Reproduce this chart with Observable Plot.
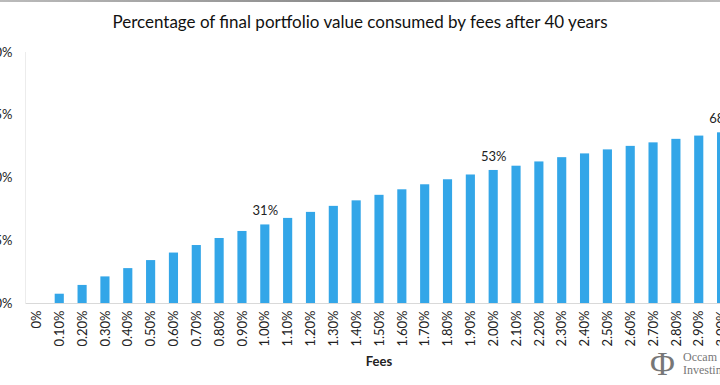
<!DOCTYPE html>
<html>
<head>
<meta charset="utf-8">
<script src="https://cdn.jsdelivr.net/npm/d3@7"></script>
<script src="https://cdn.jsdelivr.net/npm/@observablehq/plot@0.6"></script>
<style>
  html, body { margin: 0; padding: 0; background: #fff; }
  #wrap { position: relative; width: 720px; height: 385px; overflow: hidden; background: #fff; }
  #topbar { position: absolute; left: 0; top: 0; width: 720px; height: 2px; background: linear-gradient(to right, #bbb, #888, #bbb); }
  #title { position: absolute; left: 0; top: 0; width: 720px; height: 36px; text-align: center;
           font-family: Lato, "Open Sans", sans-serif; font-size: 17px; line-height: 44px; color: #111; }
  #chart { position: absolute; left: 0; top: 36px; }
  #logo { position: absolute; left: 650px; top: 350px; color: #777; font-family: "Liberation Serif", "DejaVu Serif", serif; }
  #logo .phi { position: absolute; left: 0; top: -3px; font-size: 34px; line-height: 34px; }
  #logo .t { position: absolute; left: 33px; font-size: 12px; line-height: 13px; white-space: nowrap; }
</style>
</head>
<body>
<div id="wrap">
  <div id="topbar"></div>
  <div id="title">Percentage of final portfolio value consumed by fees after 40 years</div>
  <div id="chart"></div>
  <div id="logo"><span class="phi">Φ</span><span class="t" style="top:1px">Occam</span><span class="t" style="top:14px">Investing</span></div>
</div>
<script>
const fees = ["0%","0.10%","0.20%","0.30%","0.40%","0.50%","0.60%","0.70%","0.80%","0.90%",
  "1.00%","1.10%","1.20%","1.30%","1.40%","1.50%","1.60%","1.70%","1.80%","1.90%",
  "2.00%","2.10%","2.20%","2.30%","2.40%","2.50%","2.60%","2.70%","2.80%","2.90%","3.00%"];
const consumed = [0, 3.7, 7.2, 10.6, 13.9, 17.1, 20.1, 23.1, 25.9, 28.7,
  31.3, 33.9, 36.3, 38.7, 40.9, 43.1, 45.3, 47.3, 49.3, 51.2,
  53.0, 54.7, 56.4, 58.1, 59.6, 61.2, 62.6, 64.0, 65.4, 66.7, 68.0];
const labelled = ["1.00%", "2.00%", "3.00%"];
const yTicks = [0, 25, 50, 75, 100];

const data = fees.map((f, i) => ({fee: f, value: consumed[i]}));
const labels = data.filter(d => labelled.includes(d.fee));

const font = "Lato, 'Open Sans', sans-serif";
const chart = Plot.plot({
  width: 720,
  height: 349,
  marginLeft: 25,
  marginRight: 0,
  marginTop: 16,
  marginBottom: 82,
  style: {fontFamily: font, fontSize: "13px", color: "#222", background: "transparent"},
  x: {domain: fees, range: [25, 733], round: false, paddingInner: 0.6, paddingOuter: 0.3, label: null},
  y: {domain: [0, 100], label: null},
  marks: [
    Plot.barY(data, {x: "fee", y: "value", fill: "#33a6e8"}),
    Plot.ruleY([0], {stroke: "#d9d9d9"}),
    Plot.frame({anchor: "left", stroke: "#ececec"}),
    Plot.axisY({ticks: yTicks, tickFormat: d => d + "%", tickSize: 0, tickPadding: 13, label: null, fontSize: 13}),
    Plot.axisX({tickSize: 0, tickRotate: -90, tickPadding: 7, label: null, fontSize: 13}),
    Plot.text(labels, {x: "fee", y: "value", text: d => Math.round(d.value) + "%", dy: -14, fontSize: 13, fill: "#222"}),
    Plot.text(["Fees"], {frameAnchor: "bottom", dy: 62, dx: 6, fontWeight: "bold", fontSize: 13, fill: "#222"})
  ]
});
document.getElementById("chart").appendChild(chart);
</script>
</body>
</html>
